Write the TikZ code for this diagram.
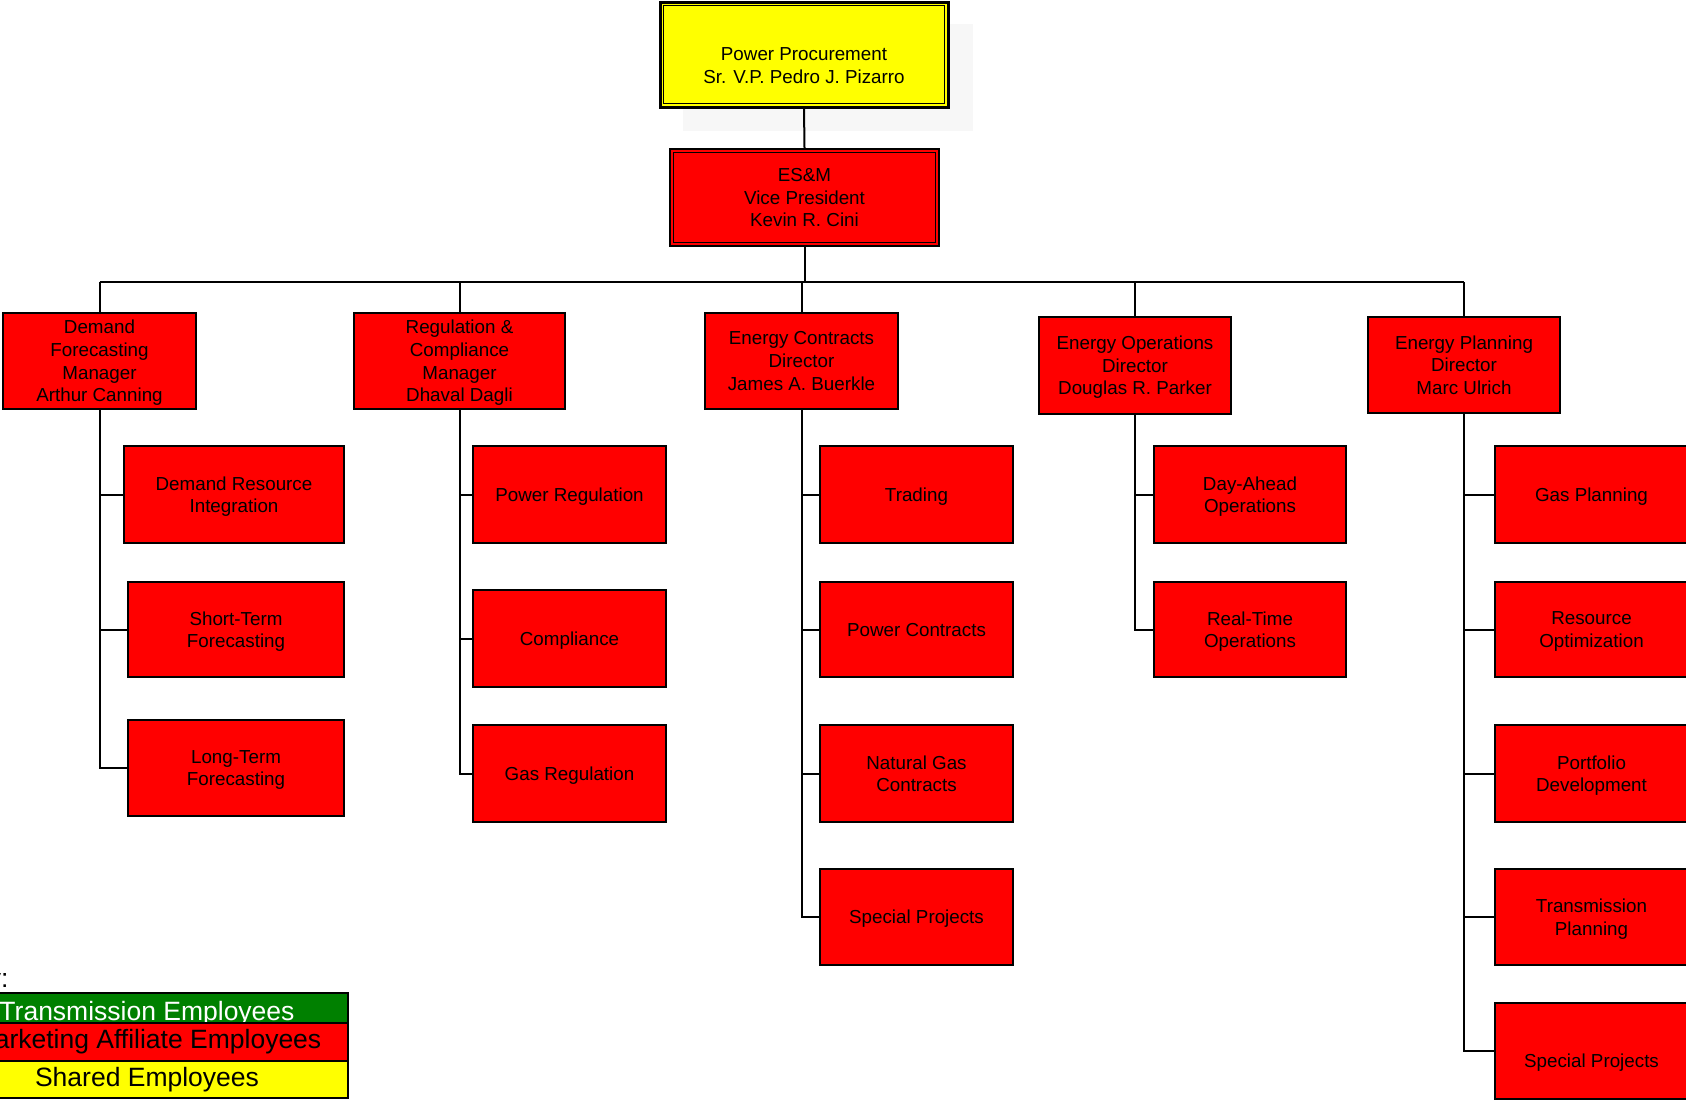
\documentclass[tikz,border=0pt]{standalone}
\usepackage{fontspec}
\setmainfont{Liberation Sans}
\definecolor{orgred}{HTML}{FF0000}
\definecolor{orgyellow}{HTML}{FFFF00}
\definecolor{orggreen}{HTML}{008000}
\newcommand{\orgfont}{\fontsize{18.8}{22.6}\selectfont}
\newcommand{\keyfont}{\fontsize{26.5}{30}\selectfont}
\begin{document}
\begin{tikzpicture}[x=1pt,y=-1pt,
  unit/.style={draw, line width=2pt, fill=orgred, inner sep=0pt, align=center,
    font=\orgfont, minimum width=193, minimum height=96, text depth=0pt},
  sub/.style={unit, minimum height=97},
  link/.style={line width=2pt},
  keybox/.style={draw, line width=1.5pt, inner sep=0pt, minimum width=402, font=\keyfont}]
\useasboundingbox (0,0) rectangle (1686,1101);
\fill [black!3] (683,24) rectangle (973,131);
\node (top) [unit, fill=orgyellow, line width=3pt, minimum width=288, minimum height=105] at (804,54.5) {};
\draw [line width=1.5pt] ([shift={(5,5)}]top.north west) rectangle ([shift={(-5,-5)}]top.south east);
\node (toptext) [font=\orgfont, align=center] at ([yshift=-11pt]top.center) {Power Procurement\\Sr. V.P. Pedro J. Pizarro};
\node (esm) [unit, minimum width=269, minimum height=97] at (804.5,197.5) {ES\&M\\Vice President\\Kevin R. Cini};
\draw [line width=1.5pt] ([shift={(4.5,4.5)}]esm.north west) rectangle ([shift={(-4.5,-4.5)}]esm.south east);

\node (demand) [unit] at (99.5,361) {Demand\\Forecasting\\Manager\\Arthur Canning};
\node (regulation) [unit, minimum width=211] at (459.5,361) {Regulation \&\\Compliance\\Manager\\Dhaval Dagli};
\node (contracts) [unit] at (801.5,361) {Energy Contracts\\Director\\James A. Buerkle};
\node (operations) [unit, minimum width=192, minimum height=97] at (1135,365.5) {Energy Operations\\Director\\Douglas R. Parker};
\node (planning) [unit, minimum width=192] at (1464,365) {Energy Planning\\Director\\Marc Ulrich};

\node (resource) [sub, minimum width=220] at (234,494.5) {Demand Resource\\Integration};
\node (shortterm) [sub, minimum width=216, minimum height=95] at (236,629.5) {Short-Term\\Forecasting};
\node (longterm) [sub, minimum width=216, minimum height=96] at (236,768) {Long-Term\\Forecasting};
\node (powerreg) [sub] at (569.5,494.5) {Power Regulation};
\node (compliance) [sub] at (569.5,638.5) {Compliance};
\node (gasreg) [sub] at (569.5,773.5) {Gas Regulation};
\node (trading) [sub] at (916.5,494.5) {Trading};
\node (powercon) [sub, minimum height=95] at (916.5,629.5) {Power Contracts};
\node (gascon) [sub] at (916.5,773.5) {Natural Gas\\Contracts};
\node (specialcon) [sub, minimum height=96] at (916.5,917) {Special Projects};
\node (dayahead) [sub, minimum width=192] at (1250,494.5) {Day-Ahead\\Operations};
\node (realtime) [sub, minimum width=192, minimum height=95] at (1250,629.5) {Real-Time\\Operations};
\node (gasplan) [sub] at (1591.5,494.5) {Gas Planning};
\node (optim) [sub, minimum height=95] at (1591.5,629.5) {Resource\\Optimization};
\node (portfolio) [sub] at (1591.5,773.5) {Portfolio\\Development};
\node (transplan) [sub, minimum height=96] at (1591.5,917) {Transmission\\Planning};
\node (specialplan) [sub, minimum height=96] at (1591.5,1051) {\raisebox{-10pt}[\height][\depth]{Special Projects}};

\coordinate (bus) at (0,282);
\draw [link] (top.south) -- (esm.north);
\draw [link] (esm.south) -- (esm.south |- bus);
\draw [link] (demand.north |- bus) -- (planning.north |- bus);
\foreach \m in {demand,regulation,contracts,operations,planning}
  \draw [link] (\m.north) -- (\m.north |- bus);
\foreach \c in {resource,shortterm,longterm}
  \draw [link] (demand.south) |- (\c.west);
\foreach \c in {powerreg,compliance,gasreg}
  \draw [link] (regulation.south) |- (\c.west);
\foreach \c in {trading,powercon,gascon,specialcon}
  \draw [link] (contracts.south) |- (\c.west);
\foreach \c in {dayahead,realtime}
  \draw [link] (operations.south) |- (\c.west);
\foreach \c in {gasplan,optim,portfolio,transplan,specialplan}
  \draw [link] (planning.south) |- (\c.west);

\node (keytitle) [font=\keyfont, anchor=base east] at (12,987) {Key:};
\node (transkey) [keybox, fill=orggreen, text=white, minimum height=30] at (147,1008) {\raisebox{-6pt}[\height][\depth]{Transmission Employees}};
\node (affkey) [keybox, fill=orgred, minimum height=38] at (147,1042) {Marketing Affiliate Employees};
\node (sharedkey) [keybox, fill=orgyellow, minimum height=37] at (147,1079.5) {Shared Employees};
\end{tikzpicture}
\end{document}
